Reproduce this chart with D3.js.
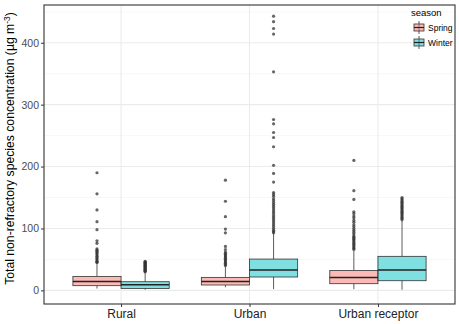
<!DOCTYPE html>
<html>
<head>
<meta charset="utf-8">
<script src="https://cdn.jsdelivr.net/npm/d3@7"></script>
<style>
  body { margin: 0; background: #fff; }
  text { font-family: "Liberation Sans", Arial, sans-serif; }
</style>
</head>
<body>
<svg id="chart" width="459" height="324"></svg>
<script>
// categories and series
const sites = ["Rural", "Urban", "Urban receptor"];
const seasons = ["Spring", "Winter"];
const seasonColors = ["#F8766D", "#00BFC4"];
const yTicks = [0, 100, 200, 300, 400];

// box stats per site, per season: [lower whisker, q1, median, q3, upper whisker]
const springStats = [[3, 7.6, 14.5, 22.6, 44], [5, 8.7, 14.5, 21, 39], [2, 10.8, 21, 32, 64]];
const winterStats = [[1, 3, 9, 14, 29], [2, 21.6, 33, 50.6, 92], [1, 15.6, 33, 55, 112]];

// outliers
const springOutliers = [
  [190, 156, 130, 111, 98, 80, 76, 67, 65, 63, 61, 59, 57, 55, 53, 51, 49, 47, 46, 45],
  [178, 144, 119, 99, 93, 71, 66, 62, 60, 58, 56, 54, 52, 50, 48, 46, 44, 42, 40],
  [210, 161, 147, 127, 124, 120, 117, 113, 110, 106, 103, 100, 97, 94, 91, 88, 86, 84, 82, 80, 78, 76, 74, 72, 70, 68, 66]
];
const winterOutliers = [
  [47, 46, 45, 44, 43, 42, 41, 40, 39, 38, 37, 36, 35, 34, 33, 32, 31, 30],
  [443, 434, 423, 414, 353, 276, 269, 255, 247, 232, 202, 189, 175, 158, 155, 152, 148, 145, 142, 139, 136, 133, 130, 127, 124, 121, 118, 115, 112, 109, 106, 103, 100, 97, 95, 93],
  [150, 148, 146, 144, 142, 140, 138, 136, 134, 132, 130, 128, 126, 124, 122, 120, 118, 116, 114]
];

const svg = d3.select("#chart");
const panel = { left: 44, right: 455, top: 5, bottom: 304 };

// ggplot-like discrete spacing (0.6 expansion each side)
const step = (panel.right - panel.left) / 3.2;
const xc = d3.scalePoint().domain(sites).range([panel.left + step * 0.6, panel.right - step * 0.6]);
const boxW = step * 0.375;

const y = d3.scaleLinear().domain([-22, 461]).range([panel.bottom, panel.top]);

// grid
const minorTicks = [50, 150, 250, 350, 450];
svg.append("g").selectAll("line").data(minorTicks).join("line")
  .attr("x1", panel.left).attr("x2", panel.right)
  .attr("y1", d => y(d)).attr("y2", d => y(d))
  .attr("stroke", "#F2F2F2").attr("stroke-width", 0.6);
svg.append("g").selectAll("line").data(yTicks).join("line")
  .attr("x1", panel.left).attr("x2", panel.right)
  .attr("y1", d => y(d)).attr("y2", d => y(d))
  .attr("stroke", "#EBEBEB").attr("stroke-width", 1.1);
svg.append("g").selectAll("line").data(sites).join("line")
  .attr("x1", d => xc(d)).attr("x2", d => xc(d))
  .attr("y1", panel.top).attr("y2", panel.bottom)
  .attr("stroke", "#EBEBEB").attr("stroke-width", 1.1);

// boxes
const groups = [];
sites.forEach((s, i) => {
  seasons.forEach((se, j) => {
    const st = j === 0 ? springStats[i] : winterStats[i];
    const out = j === 0 ? springOutliers[i] : winterOutliers[i];
    groups.push({ site: s, season: j, stats: st, outliers: out, cx: xc(s) + (j === 0 ? -boxW / 2 : boxW / 2) });
  });
});

const g = svg.append("g");
groups.forEach(d => {
  const [lo, q1, med, q3, hi] = d.stats;
  g.append("line").attr("x1", d.cx).attr("x2", d.cx).attr("y1", y(lo)).attr("y2", y(q1))
    .attr("stroke", "#333").attr("stroke-width", 0.8);
  g.append("line").attr("x1", d.cx).attr("x2", d.cx).attr("y1", y(q3)).attr("y2", y(hi))
    .attr("stroke", "#333").attr("stroke-width", 0.8);
  g.append("rect").attr("x", d.cx - boxW / 2).attr("y", y(q3))
    .attr("width", boxW).attr("height", y(q1) - y(q3))
    .attr("fill", seasonColors[d.season]).attr("fill-opacity", 0.5)
    .attr("stroke", "#333").attr("stroke-width", 0.8);
  g.append("line").attr("x1", d.cx - boxW / 2).attr("x2", d.cx + boxW / 2)
    .attr("y1", y(med)).attr("y2", y(med))
    .attr("stroke", "#222").attr("stroke-width", 1.5);
  g.selectAll(null).data(d.outliers).join("circle")
    .attr("cx", d.cx).attr("cy", v => y(v)).attr("r", 1.6)
    .attr("fill", "#333").attr("fill-opacity", 0.75);
});

// panel border
svg.append("rect").attr("x", panel.left).attr("y", panel.top)
  .attr("width", panel.right - panel.left).attr("height", panel.bottom - panel.top)
  .attr("fill", "none").attr("stroke", "#333").attr("stroke-width", 1.1);

// axes
const yAxis = svg.append("g").attr("transform", `translate(${panel.left},0)`)
  .call(d3.axisLeft(y).tickValues(yTicks).tickSize(3).tickPadding(2));
yAxis.select(".domain").remove();
yAxis.selectAll("line").attr("stroke", "#333");
yAxis.selectAll("text").attr("fill", "#4D4D4D").attr("font-size", 10.5)
  .style("font-family", "'Liberation Sans', Arial, sans-serif");

const xAxis = svg.append("g").attr("transform", `translate(0,${panel.bottom})`)
  .call(d3.axisBottom(xc).tickSize(3).tickPadding(2));
xAxis.select(".domain").remove();
xAxis.selectAll("line").attr("stroke", "#333");
xAxis.selectAll("text").attr("fill", "#222").attr("font-size", 12)
  .style("font-family", "'Liberation Sans', Arial, sans-serif");

// y title
const yt = svg.append("text")
  .attr("transform", `translate(14,${(panel.top + panel.bottom) / 2 - 6}) rotate(-90)`)
  .attr("text-anchor", "middle").attr("font-size", 12.2).attr("fill", "#000");
yt.append("tspan").text("Total non-refractory species concentration (\u00B5g m");
yt.append("tspan").attr("dy", -4).attr("font-size", 8.5).text("-3");
yt.append("tspan").attr("dy", 4).text(")");

// legend
const lg = svg.append("g").attr("transform", "translate(411,0)");
lg.append("text").attr("x", 0).attr("y", 16).attr("font-size", 9.5).attr("fill", "#000").text("season");
seasons.forEach((s, j) => {
  const ky = 21 + j * 15;
  const kg = lg.append("g").attr("transform", `translate(2,${ky})`);
  kg.append("line").attr("x1", 6).attr("x2", 6).attr("y1", 0).attr("y2", 13).attr("stroke", "#333").attr("stroke-width", 0.8);
  kg.append("rect").attr("x", 1).attr("y", 3).attr("width", 10).attr("height", 7)
    .attr("fill", seasonColors[j]).attr("fill-opacity", 0.5).attr("stroke", "#333").attr("stroke-width", 0.8);
  kg.append("line").attr("x1", 1).attr("x2", 11).attr("y1", 6.5).attr("y2", 6.5).attr("stroke", "#222").attr("stroke-width", 1.2);
  lg.append("text").attr("x", 17).attr("y", ky + 10).attr("font-size", 8.5).attr("fill", "#000").text(s);
});
</script>
</body>
</html>
